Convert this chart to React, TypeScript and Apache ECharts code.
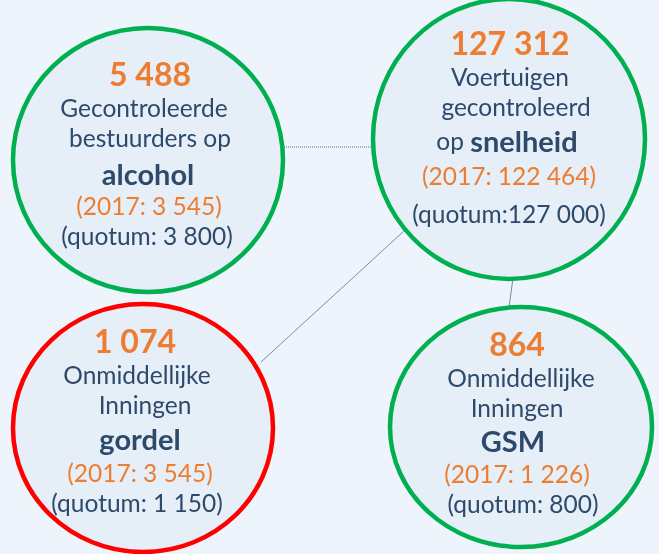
import React, { useEffect, useRef } from "react";
import * as echarts from "echarts";

const counts = ["5 488", "127 312", "1 074", "864"];
const descLines = [
  ["Gecontroleerde", "bestuurders op"],
  ["Voertuigen", "gecontroleerd"],
  ["Onmiddellijke", "Inningen"],
  ["Onmiddellijke", "Inningen"],
];
const topics = ["alcohol", "snelheid", "gordel", "GSM"];
const prevYear = ["(2017: 3 545)", "(2017: 122 464)", "(2017: 3 545)", "(2017: 1 226)"];
const quota = ["(quotum: 3 800)", "(quotum:127 000)", "(quotum: 1 150)", "(quotum: 800)"];
const statusOk = [true, true, false, true];

const NAVY = "#2d4a6b";
const ORANGE = "#ed7d31";
const FONT = "Lato, 'Open Sans', sans-serif";

// layout (not data)
const circles = [
  { cx: 148, cy: 160, rx: 135, ry: 132 },
  { cx: 509, cy: 139, rx: 136, ry: 140 },
  { cx: 143, cy: 428, rx: 130, ry: 124 },
  { cx: 521, cy: 427, rx: 131, ry: 120 },
];
const lineY = [
  [73, 107, 137, 173, 205, 235],
  [42, 76, 106, 140, 175, 213],
  [340, 374, 404, 438, 472, 502],
  [343, 377, 407, 440, 473, 503],
];
const lineX = [
  [150, 144, 150, 148, 149, 147],
  [510, 510, 516, 507, 509, 509],
  [135, 137, 145, 140, 140, 137],
  [517, 521, 517, 513, 517, 523],
];

export default function App() {
  const ref = useRef<HTMLDivElement>(null);
  useEffect(() => {
    const chart = echarts.init(ref.current!, null, { renderer: "svg" });
    const elements: any[] = [];
    elements.push({
      type: "rect",
      shape: { x: 0, y: 0, width: 659, height: 554 },
      style: { fill: "#eef4fb" },
      z: 0,
    });
    // connectors
    elements.push({
      type: "line",
      shape: { x1: 284, y1: 147, x2: 373, y2: 147 },
      style: { stroke: "#5b7391", lineWidth: 1, lineDash: [1, 1] },
      z: 1,
    });
    elements.push({
      type: "line",
      shape: { x1: 404, y1: 231, x2: 261, y2: 362 },
      style: { stroke: "#5b7391", lineWidth: 0.8 },
      z: 1,
    });
    elements.push({
      type: "line",
      shape: { x1: 513, y1: 278, x2: 508, y2: 315 },
      style: { stroke: "#5b7391", lineWidth: 0.8 },
      z: 1,
    });
    counts.forEach((c, i) => {
      const ci = circles[i];
      elements.push({
        type: "ellipse",
        shape: { cx: ci.cx, cy: ci.cy, rx: ci.rx, ry: ci.ry },
        style: { fill: "#e6eef8", stroke: statusOk[i] ? "#00b050" : "#ff0000", lineWidth: 4.5 },
        z: 2,
      });
      const ys = lineY[i];
      const xs = lineX[i];
      const mk = (k: number, text: string, size: number, color: string, weight: string, rich?: any) => ({
        type: "text",
        x: xs[k],
        y: ys[k],
        z: 3,
        style: {
          text,
          fill: color,
          font: `${weight} ${size}px ${FONT}`,
          align: "center",
          verticalAlign: "middle",
          rich,
        },
      });
      elements.push(mk(0, c, 32, ORANGE, "bold"));
      elements.push(mk(1, descLines[i][0], 24.5, NAVY, "normal"));
      if (i === 1) {
        elements.push(
          mk(3, "op {b|" + topics[i] + "}", 24.5, NAVY, "normal", {
            b: { fontFamily: FONT, fontWeight: "bold", fontSize: 29, fill: NAVY },
          })
        );
      } else {
        elements.push(mk(3, topics[i], 29, NAVY, "bold"));
      }
      elements.push(mk(2, descLines[i][1], 24.5, NAVY, "normal"));
      elements.push(mk(4, prevYear[i], 24.5, ORANGE, "normal"));
      elements.push(mk(5, quota[i], 24.5, NAVY, "normal"));
    });
    chart.setOption({ animation: false, graphic: { elements } });
    return () => chart.dispose();
  }, []);
  return (
    <div
      ref={ref}
      style={{ position: "fixed", left: 0, top: 0, width: 659, height: 554 }}
    />
  );
}
